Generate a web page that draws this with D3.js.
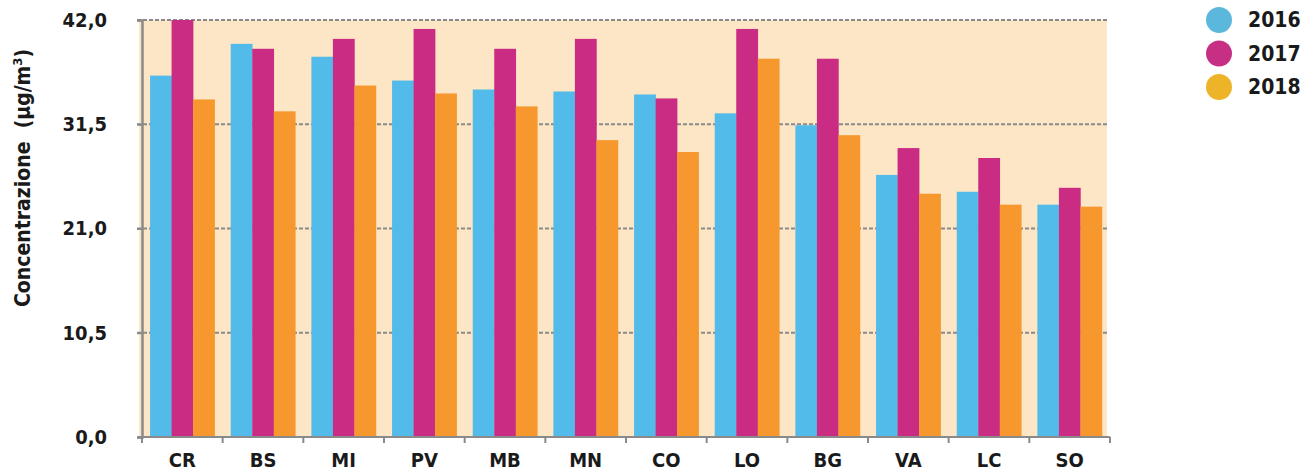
<!DOCTYPE html>
<html>
<head>
<meta charset="UTF-8">
<title>Concentrazione</title>
<script src="https://cdn.jsdelivr.net/npm/d3@7"></script>
<style>
  body { margin: 0; background: #fff; }
  text { font-family: "Liberation Sans Narrow", "DejaVu Sans Condensed", "DejaVu Sans", sans-serif; font-stretch: condensed; font-weight: bold; fill: #1a1a1a; }
</style>
</head>
<body>
<script>
// province
var categories = ["CR", "BS", "MI", "PV", "MB", "MN", "CO", "LO", "BG", "VA", "LC", "SO"];
var years = ["2016", "2017", "2018"];
// values (µg/m3)
var values2016 = [36.4, 39.6, 38.3, 35.9, 35.0, 34.8, 34.5, 32.6, 31.4, 26.4, 24.7, 23.4];
var values2017 = [42.0, 39.1, 40.1, 41.1, 39.1, 40.1, 34.1, 41.1, 38.1, 29.1, 28.1, 25.1];
var values2018 = [34.0, 32.8, 35.4, 34.6, 33.3, 29.9, 28.7, 38.1, 30.4, 24.5, 23.4, 23.2];
var yTicks = [0, 10.5, 21, 31.5, 42];

var barColors = ["#52bbe9", "#c92c82", "#f6982d"];
var legendColors = ["#5bb8dc", "#c72f84", "#edb42a"];

var w = 1305, h = 473;
var plotLeft = 142, plotRight = 1110, plotTop = 20, plotBottom = 437;

var series = [values2016, values2017, values2018];
var data = categories.map(function(c, i) {
  return { cat: c, vals: series.map(function(s) { return s[i]; }) };
});

var svg = d3.select("body").append("svg")
  .attr("width", w)
  .attr("height", h);

var x0 = d3.scaleBand().domain(categories).range([plotLeft, plotRight]).padding(0);
var x1 = d3.scaleBand().domain(years)
  .range([x0.bandwidth() * 0.1, x0.bandwidth() * 0.9]).padding(0);
var y = d3.scaleLinear().domain([0, 42]).range([plotBottom, plotTop]);

// plot background
svg.append("rect")
  .attr("x", plotLeft - 3).attr("y", plotTop)
  .attr("width", 1107 - (plotLeft - 3)).attr("height", plotBottom - plotTop)
  .attr("fill", "#fde6c6");

// dashed grid
svg.append("g").selectAll("line")
  .data(yTicks.filter(function(d) { return d > 0; }))
  .enter().append("line")
  .attr("x1", plotLeft - 5).attr("x2", 1107)
  .attr("y1", function(d) { return y(d); })
  .attr("y2", function(d) { return y(d); })
  .attr("stroke", "#8a8a8a")
  .attr("stroke-width", 2)
  .attr("stroke-dasharray", "4,2");

// bars
var groups = svg.append("g").selectAll("g")
  .data(data)
  .enter().append("g")
  .attr("transform", function(d) { return "translate(" + x0(d.cat) + ",0)"; });

groups.selectAll("rect")
  .data(function(d) { return d.vals.map(function(v, i) { return { year: years[i], v: v, i: i }; }); })
  .enter().append("rect")
  .attr("x", function(d) { return x1(d.year); })
  .attr("width", x1.bandwidth() + 0.3)
  .attr("y", function(d) { return y(d.v); })
  .attr("height", function(d) { return plotBottom - y(d.v); })
  .attr("fill", function(d) { return barColors[d.i]; });

// y axis
var fmt = function(d) { return d3.format(".1f")(d).replace(".", ","); };
var yAxis = svg.append("g")
  .attr("transform", "translate(" + plotLeft + ",0)")
  .call(d3.axisLeft(y).tickValues(yTicks).tickFormat(fmt).tickSize(5).tickPadding(30));
yAxis.select(".domain").attr("stroke", "#8a8a8a").attr("stroke-width", 2.5);
yAxis.selectAll(".tick line").attr("stroke", "#8a8a8a").attr("stroke-width", 2);
yAxis.selectAll(".tick text").style("font-size", "20px").attr("fill", "#1a1a1a");

// x axis
var xAxis = svg.append("g")
  .attr("transform", "translate(0," + plotBottom + ")")
  .call(d3.axisBottom(x0).tickSize(0).tickPadding(16));
xAxis.select(".domain").remove();
xAxis.selectAll(".tick text").style("font-size", "20px").attr("fill", "#1a1a1a");
svg.append("line")
  .attr("x1", plotLeft - 4).attr("x2", plotRight)
  .attr("y1", plotBottom).attr("y2", plotBottom)
  .attr("stroke", "#8a8a8a").attr("stroke-width", 2);
svg.append("g").selectAll("line")
  .data(categories.map(function(c) { return x0(c); }).concat([plotRight]))
  .enter().append("line")
  .attr("x1", function(d) { return d; }).attr("x2", function(d) { return d; })
  .attr("y1", plotBottom).attr("y2", plotBottom + 6)
  .attr("stroke", "#8a8a8a").attr("stroke-width", 2);

// y title
var title = svg.append("text")
  .attr("transform", "translate(30," + 178 + ") rotate(-90)")
  .attr("text-anchor", "middle")
  .style("font-size", "21px");
title.append("tspan").text("Concentrazione\u00a0 (\u00b5g/m");
title.append("tspan").attr("dy", -8).style("font-size", "13px").text("3");
title.append("tspan").attr("dy", 8).text(")");

// legend
var legend = svg.append("g").selectAll("g")
  .data(years)
  .enter().append("g")
  .attr("transform", function(d, i) { return "translate(1219," + (20 + i * 33.5) + ")"; });
legend.append("circle").attr("r", 13).attr("fill", function(d, i) { return legendColors[i]; });
legend.append("text").attr("x", 29).attr("y", 7).style("font-size", "21px").text(function(d) { return d; });
</script>
</body>
</html>
